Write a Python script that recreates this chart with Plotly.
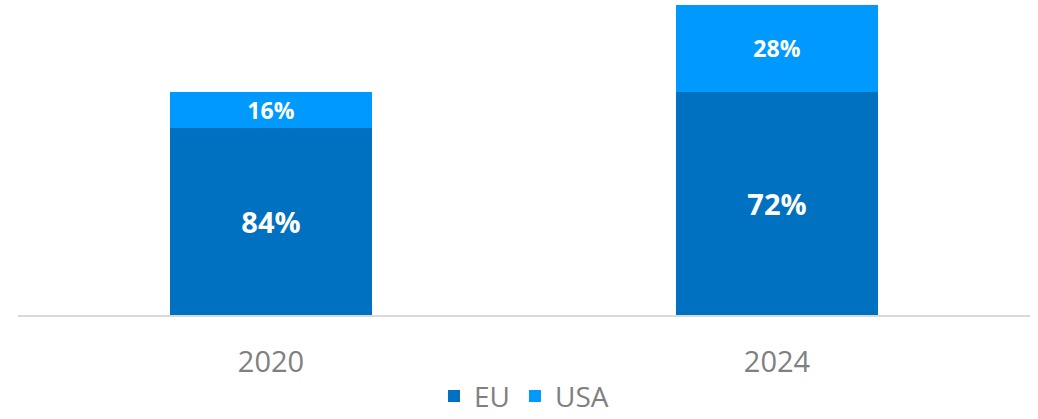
import plotly.graph_objects as go

years = ["2020", "2024"]
eu_values = [84, 100]
usa_values = [16, 39]
series_names = ["EU", "USA"]

totals = [e + u for e, u in zip(eu_values, usa_values)]
eu_text = [f"{round(100 * e / t)}%" for e, t in zip(eu_values, totals)]
usa_text = [f"{round(100 * u / t)}%" for u, t in zip(usa_values, totals)]

fig = go.Figure()
fig.add_trace(go.Bar(
    x=years, y=eu_values, name=series_names[0], text=eu_text,
    marker=dict(color="#0070C0", line=dict(width=0)),
    textposition="inside", insidetextanchor="middle", constraintext="none",
    textfont=dict(family="Open Sans", size=29, color="white", weight="bold"),
))
fig.add_trace(go.Bar(
    x=years, y=usa_values, name=series_names[1], text=usa_text,
    marker=dict(color="#009AFF", line=dict(width=0)),
    textposition="inside", insidetextanchor="middle", constraintext="none",
    textfont=dict(family="Open Sans", size=23, color="white", weight="bold"),
))

fig.update_layout(
    barmode="stack",
    bargap=0.6,
    width=1038, height=419,
    margin=dict(l=18, r=8, t=5, b=104, autoexpand=False),
    paper_bgcolor="white", plot_bgcolor="white",
    showlegend=True,
    legend=dict(orientation="h", x=0.5, xanchor="center", xref="paper",
                y=-0.262, yanchor="middle", yref="paper",
                font=dict(family="Open Sans", size=28, color="#808080"),
                itemwidth=30, traceorder="normal", tracegroupgap=0),
    xaxis=dict(showline=True, linecolor="#D9D9D9", linewidth=2, ticks="",
               automargin=False, ticklabelstandoff=20,
               tickfont=dict(family="Open Sans", size=29, color="#808080"),
               showgrid=False),
    yaxis=dict(visible=False, range=[0, 139], showgrid=False, zeroline=False,
               automargin=False),
)
fig.update_traces(textangle=0, cliponaxis=False)

fig.write_html("out.html", config={"displayModeBar": False},
               post_script="document.body.style.margin='0';")
